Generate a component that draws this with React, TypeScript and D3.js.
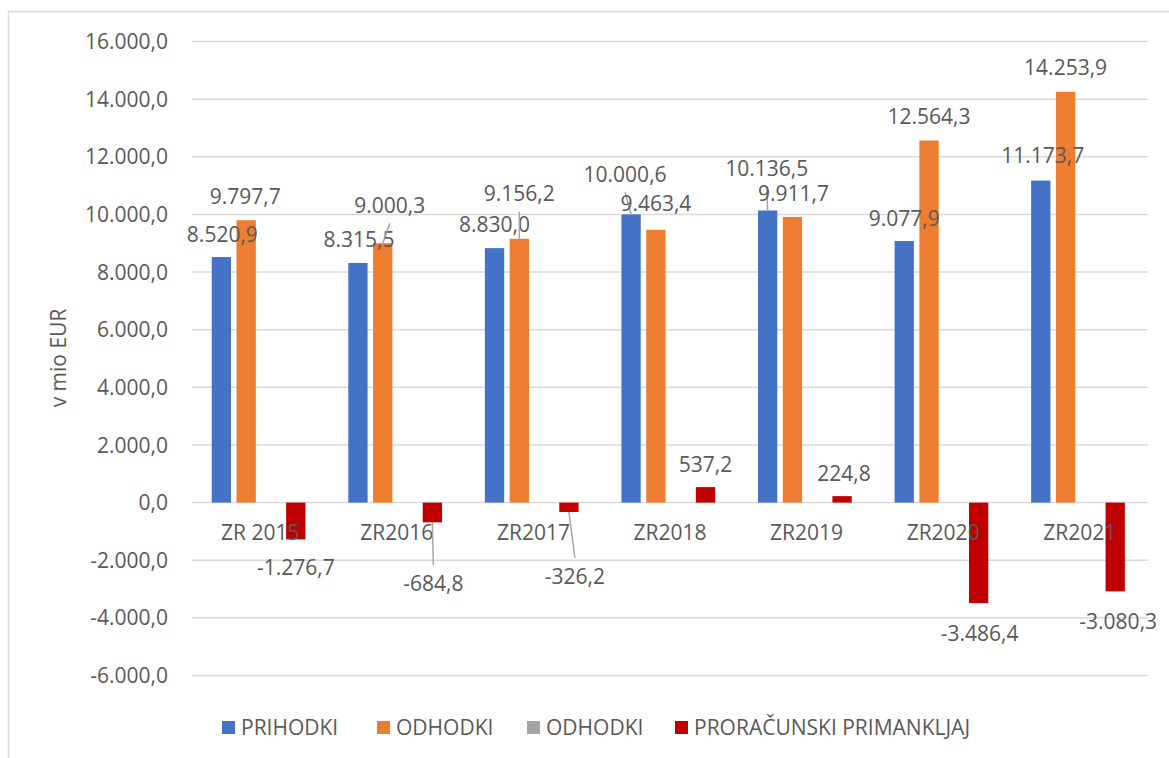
import React from 'react';
import * as d3 from 'd3';

// values in mio EUR
const categories = ['ZR 2015', 'ZR2016', 'ZR2017', 'ZR2018', 'ZR2019', 'ZR2020', 'ZR2021'];
const prihodki = [8520.9, 8315.5, 8830.0, 10000.6, 10136.5, 9077.9, 11173.7];
const odhodki = [9797.7, 9000.3, 9156.2, 9463.4, 9911.7, 12564.3, 14253.9];
const odhodkiEmpty: (number | null)[] = [null, null, null, null, null, null, null];
const primanjkljaj = [-1276.7, -684.8, -326.2, 537.2, 224.8, -3486.4, -3080.3];
const yTicks = [-6000, -4000, -2000, 0, 2000, 4000, 6000, 8000, 10000, 12000, 14000, 16000];
const seriesNames = ['PRIHODKI', 'ODHODKI', 'ODHODKI', 'PRORAČUNSKI PRIMANKLJAJ'];
const seriesColors = ['#4472C4', '#ED7D31', '#A5A5A5', '#C00000'];

// manual label nudges (dx, dy from bar end), like the moved labels in the original
const labelShift: number[][][] = [
  [[1, -23], [1, -24], [0, -24], [-6, -40], [-1, -42], [0, -23], [2, -25]],
  [[-1, -24], [7, -38], [0, -45], [0, -26], [1, -24], [0, -24], [0, -24]],
  [],
  [[0, 28], [1, 61], [6, 64], [0, -23], [2, -23], [1, 30], [3, 30]],
];
const leaders = ['1-1', '1-2', '0-3', '0-4', '3-1', '3-2'];

const W = 1169;
const H = 758;
const FONT = "'Open Sans', 'Noto Sans', sans-serif";
const TEXT = '#595959';

const fmt = d3.formatLocale({
  decimal: ',',
  thousands: '.',
  grouping: [3],
  currency: ['', ''],
  minus: '-',
}).format(',.1f');

export default function App() {
  const series = [prihodki, odhodki, odhodkiEmpty, primanjkljaj];
  const keys = series.map((_, i) => String(i));

  const x0 = d3.scaleBand<string>().domain(categories).range([192, 1148]);
  const x1 = d3.scaleBand<string>()
    .domain(keys)
    .range([0, x0.bandwidth()])
    .paddingInner(0.222)
    .paddingOuter(0.864)
    .align(0.46);
  const y = d3.scaleLinear().domain([-6000, 16000]).range([675.5, 41.5]);

  const legendX = [222, 377, 527, 675];

  return (
    <svg
      width={W}
      height={H}
      style={{ position: 'absolute', left: 0, top: 0, display: 'block', background: '#fff' }}
      fontFamily={FONT}
    >
      <rect x={8.5} y={11.5} width={W + 40} height={H + 40} fill="#fff" stroke="#d9d9d9" strokeWidth={1.5} />

      {/* gridlines + y ticks */}
      {yTicks.map(t => (
        <g key={t}>
          <line x1={192} x2={1148} y1={y(t)} y2={y(t)} stroke="#d9d9d9" strokeWidth={1.5} />
          <text x={168} y={y(t)} dy="0.36em" textAnchor="end" fontSize={21} fill={TEXT}>
            {fmt(t)}
          </text>
        </g>
      ))}

      <text
        transform={`translate(58,358) rotate(-90)`}
        textAnchor="middle"
        dy="0.36em"
        fontSize={21}
        fill={TEXT}
      >
        v mio EUR
      </text>

      {/* bars */}
      {series.map((vals, s) => (
        <g key={s} fill={seriesColors[s]}>
          {vals.map((v, i) => {
            if (v == null) return null;
            const bx = (x0(categories[i]) as number) + (x1(keys[s]) as number);
            return (
              <rect
                key={i}
                x={bx}
                y={Math.min(y(v), y(0))}
                width={x1.bandwidth()}
                height={Math.abs(y(v) - y(0))}
              />
            );
          })}
        </g>
      ))}

      {/* category labels */}
      {categories.map(c => (
        <text
          key={c}
          x={(x0(c) as number) + x0.bandwidth() / 2}
          y={y(0) + 30}
          dy="0.36em"
          textAnchor="middle"
          fontSize={21}
          fill={TEXT}
        >
          {c}
        </text>
      ))}

      {/* leader lines + data labels */}
      {series.map((vals, s) => (
        <g key={s}>
          {vals.map((v, i) => {
            if (v == null) return null;
            const cx = (x0(categories[i]) as number) + (x1(keys[s]) as number) + x1.bandwidth() / 2;
            const [dx, dy] = labelShift[s][i];
            const lx = cx + dx;
            const ly = y(v) + dy;
            const hasLeader = leaders.includes(`${s}-${i}`);
            const dir = dy < 0 ? 1 : -1;
            return (
              <g key={i}>
                {hasLeader && (
                  <line
                    x1={lx}
                    y1={ly + dir * 18}
                    x2={cx}
                    y2={y(v)}
                    stroke="#a6a6a6"
                    strokeWidth={1.5}
                  />
                )}
                <text x={lx} y={ly} dy="0.36em" textAnchor="middle" fontSize={21} fill={TEXT}>
                  {fmt(v)}
                </text>
              </g>
            );
          })}
        </g>
      ))}

      {/* legend */}
      {seriesNames.map((name, i) => (
        <g key={i} transform={`translate(${legendX[i]},727.5)`}>
          <rect x={0} y={-6.5} width={13} height={13} fill={seriesColors[i]} />
          <text x={19} y={0} dy="0.36em" fontSize={21} fill={TEXT}>
            {name}
          </text>
        </g>
      ))}
    </svg>
  );
}
